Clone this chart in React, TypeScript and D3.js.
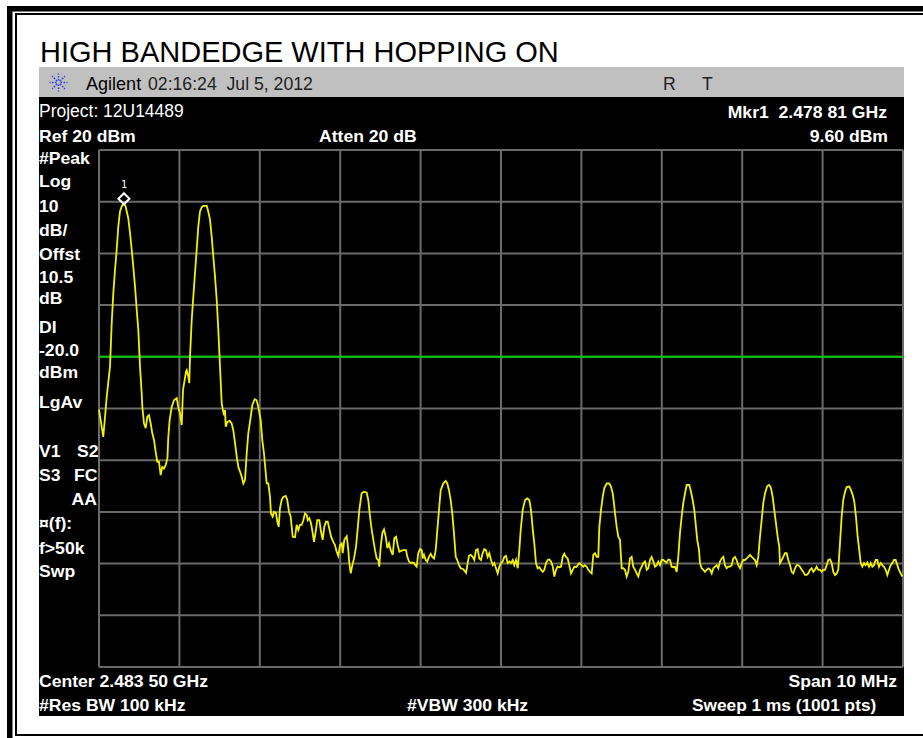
import React from "react";
import * as d3 from "d3";

// Agilent screen capture: high band edge, hopping on
const title = "HIGH BANDEDGE WITH HOPPING ON";
const startMHz = 2478.5; // center 2483.5, span 10 MHz
const spanMHz = 10;
const refLevel = 20; // dBm, top of screen
const dbPerDiv = 10;
const divisions = [0, 1, 2, 3, 4, 5, 6, 7, 8, 9, 10];
const displayLine = -20; // dBm
const markerMHz = 2478.81;
const markerText = "2.478 81";
const markerDbm = 9.6;

const headerTexts = ["Agilent", "02:16:24  Jul 5, 2012", "R", "T"];
const leftLabels = [
  "#Peak", "Log", "10", "dB/", "Offst", "10.5", "dB", "DI", "-20.0", "dBm", "LgAv",
  "V1", "S3", "¤(f):", "f>50k", "Swp",
];
const leftLabelBaselines = [164, 187, 212, 236, 260, 283, 304, 333, 356, 378, 408, 457, 481, 529, 554, 577];

// [offset from start frequency in MHz, level in dBm]
const trace: [number, number][] = [
  [0.000,-30.2],[0.053,-35.5],[0.075,-31.6],[0.096,-27.7],[0.137,-21.9],[0.158,-13.5],[0.178,-7.7],[0.199,-3.2],
  [0.220,0.7],[0.240,5.2],[0.261,8.1],[0.285,9.2],[0.310,9.6],[0.330,9.2],[0.345,8.1],[0.364,6.8],[0.386,3.9],
  [0.407,0.7],[0.427,-2.6],[0.448,-6.4],[0.469,-10.9],[0.489,-14.8],[0.510,-21.9],[0.531,-27.1],[0.539,-29.7],
  [0.560,-32.9],[0.581,-33.8],[0.601,-31.6],[0.622,-31.3],[0.643,-32.9],[0.663,-34.8],[0.684,-36.1],[0.705,-38.4],
  [0.725,-40.3],[0.746,-40.3],[0.767,-42.9],[0.787,-41.3],[0.808,-41.6],[0.830,-40.9],[0.851,-39.6],[0.862,-35.5],
  [0.879,-32.2],[0.904,-29.7],[0.933,-28.4],[0.966,-28.0],[0.986,-29.7],[1.007,-30.9],[1.029,-33.2],[1.045,-26.4],
  [1.082,-22.9],[1.091,-22.6],[1.111,-23.8],[1.123,-25.1],[1.132,-20.0],[1.153,-12.9],[1.173,-8.4],[1.194,-3.8],
  [1.215,0.7],[1.235,5.2],[1.256,8.1],[1.277,8.9],[1.297,9.2],[1.340,9.2],[1.359,8.1],[1.381,6.5],[1.402,3.2],
  [1.422,-0.6],[1.443,-4.5],[1.464,-9.0],[1.484,-14.8],[1.505,-21.9],[1.526,-29.0],[1.542,-30.3],[1.555,-31.3],
  [1.567,-30.3],[1.576,-33.5],[1.596,-32.6],[1.626,-32.4],[1.650,-32.9],[1.670,-34.2],[1.692,-36.7],[1.713,-39.3],
  [1.733,-41.3],[1.754,-42.2],[1.775,-43.2],[1.795,-44.5],[1.816,-43.8],[1.837,-38.7],[1.857,-34.8],[1.887,-31.6],
  [1.907,-29.3],[1.937,-28.2],[1.961,-28.4],[1.981,-29.7],[2.011,-32.2],[2.031,-36.1],[2.052,-38.7],[2.086,-44.5],
  [2.106,-44.5],[2.127,-47.1],[2.139,-50.3],[2.160,-50.9],[2.177,-50.0],[2.201,-50.2],[2.218,-51.9],[2.235,-52.9],
  [2.251,-49.3],[2.272,-47.7],[2.292,-47.1],[2.322,-46.9],[2.342,-47.7],[2.363,-50.0],[2.384,-50.9],[2.397,-52.9],
  [2.409,-54.8],[2.438,-54.9],[2.459,-52.5],[2.479,-53.5],[2.500,-52.5],[2.521,-52.5],[2.541,-51.6],[2.562,-50.3],
  [2.583,-50.6],[2.596,-51.6],[2.616,-51.2],[2.637,-52.2],[2.658,-54.1],[2.674,-55.8],[2.695,-53.8],[2.715,-51.6],
  [2.740,-51.6],[2.761,-53.8],[2.782,-55.4],[2.802,-52.9],[2.823,-51.9],[2.845,-51.9],[2.864,-53.2],[2.886,-54.8],
  [2.914,-55.8],[2.935,-56.4],[2.956,-57.7],[2.976,-58.5],[2.998,-56.4],[3.019,-56.1],[3.031,-58.0],[3.051,-55.4],
  [3.081,-54.7],[3.101,-57.4],[3.113,-59.9],[3.131,-61.9],[3.151,-60.3],[3.172,-59.0],[3.197,-56.7],[3.218,-53.2],
  [3.238,-49.6],[3.267,-46.4],[3.296,-46.1],[3.330,-46.3],[3.349,-47.7],[3.371,-50.9],[3.392,-53.5],[3.412,-55.4],
  [3.433,-57.4],[3.454,-59.0],[3.474,-59.3],[3.486,-60.6],[3.504,-56.7],[3.524,-54.1],[3.545,-53.4],[3.566,-54.8],
  [3.586,-57.0],[3.607,-56.1],[3.628,-57.4],[3.653,-58.3],[3.673,-55.1],[3.694,-54.8],[3.715,-56.4],[3.735,-57.7],
  [3.765,-57.5],[3.785,-57.4],[3.818,-57.4],[3.835,-58.7],[3.856,-59.6],[3.877,-59.9],[3.897,-59.8],[3.918,-59.9],
  [3.934,-60.3],[3.951,-60.6],[3.971,-58.0],[3.993,-57.2],[4.014,-57.4],[4.026,-59.0],[4.042,-58.3],[4.063,-59.3],
  [4.083,-59.6],[4.104,-58.7],[4.126,-58.1],[4.146,-58.7],[4.167,-59.0],[4.188,-57.4],[4.208,-53.5],[4.229,-49.6],
  [4.250,-45.8],[4.282,-44.5],[4.312,-44.0],[4.332,-44.5],[4.353,-45.8],[4.374,-47.7],[4.394,-50.3],[4.415,-54.1],
  [4.437,-58.7],[4.456,-59.3],[4.478,-60.3],[4.499,-60.9],[4.531,-61.1],[4.565,-61.8],[4.581,-60.3],[4.602,-58.5],
  [4.623,-58.3],[4.648,-58.7],[4.668,-59.3],[4.689,-57.4],[4.710,-57.2],[4.730,-59.0],[4.751,-59.3],[4.772,-58.0],
  [4.792,-57.2],[4.813,-57.4],[4.834,-58.7],[4.854,-58.0],[4.876,-59.3],[4.897,-60.3],[4.917,-59.9],[4.938,-60.9],
  [4.959,-61.9],[4.979,-60.6],[5.000,-59.9],[5.021,-59.6],[5.041,-58.7],[5.062,-58.5],[5.083,-59.9],[5.103,-59.6],
  [5.124,-59.9],[5.146,-59.3],[5.165,-60.3],[5.187,-59.3],[5.208,-60.9],[5.228,-57.4],[5.245,-53.5],[5.270,-49.6],
  [5.299,-47.7],[5.327,-47.4],[5.352,-47.7],[5.373,-49.6],[5.394,-53.2],[5.414,-56.1],[5.435,-59.9],[5.456,-60.9],
  [5.476,-60.7],[5.498,-61.2],[5.519,-61.6],[5.539,-61.2],[5.560,-59.9],[5.581,-59.3],[5.601,-59.2],[5.622,-59.6],
  [5.643,-60.5],[5.663,-62.5],[5.684,-61.2],[5.705,-60.6],[5.725,-60.7],[5.746,-60.6],[5.767,-58.7],[5.787,-58.1],
  [5.808,-58.7],[5.829,-59.0],[5.849,-60.3],[5.871,-61.9],[5.892,-61.2],[5.912,-60.6],[5.933,-60.7],[5.954,-60.3],
  [5.974,-59.9],[6.004,-60.3],[6.024,-60.6],[6.045,-60.3],[6.066,-60.6],[6.086,-61.2],[6.107,-61.6],[6.128,-61.9],
  [6.148,-58.3],[6.169,-58.0],[6.190,-58.7],[6.210,-58.7],[6.223,-52.9],[6.244,-49.6],[6.265,-47.1],[6.285,-45.4],
  [6.315,-44.5],[6.347,-44.5],[6.368,-45.1],[6.389,-46.4],[6.405,-48.3],[6.418,-50.3],[6.439,-52.9],[6.459,-54.8],
  [6.480,-55.4],[6.501,-60.9],[6.521,-60.9],[6.542,-61.2],[6.563,-62.5],[6.583,-61.6],[6.604,-59.0],[6.625,-58.7],
  [6.645,-60.6],[6.667,-61.2],[6.688,-61.9],[6.708,-62.5],[6.729,-61.2],[6.750,-60.6],[6.770,-59.9],[6.791,-59.6],
  [6.812,-61.2],[6.832,-60.9],[6.853,-59.3],[6.874,-58.7],[6.894,-59.6],[6.915,-60.6],[6.936,-60.3],[6.956,-59.6],
  [6.978,-60.3],[6.999,-59.3],[7.019,-59.3],[7.040,-59.6],[7.061,-59.8],[7.081,-59.2],[7.102,-59.3],[7.123,-60.6],
  [7.143,-60.7],[7.164,-60.6],[7.185,-61.6],[7.205,-58.7],[7.226,-54.1],[7.247,-50.9],[7.267,-48.3],[7.289,-46.4],
  [7.310,-44.8],[7.342,-44.8],[7.363,-46.1],[7.384,-47.7],[7.404,-49.6],[7.425,-52.9],[7.441,-55.4],[7.463,-57.4],
  [7.475,-59.9],[7.496,-60.9],[7.516,-61.2],[7.537,-61.6],[7.558,-61.2],[7.578,-60.9],[7.600,-61.1],[7.621,-61.9],
  [7.641,-60.9],[7.662,-60.6],[7.683,-60.3],[7.703,-60.9],[7.724,-59.6],[7.745,-59.0],[7.765,-58.7],[7.786,-60.3],
  [7.807,-60.9],[7.827,-60.6],[7.848,-60.6],[7.869,-60.3],[7.889,-59.0],[7.910,-58.7],[7.931,-59.3],[7.951,-60.3],
  [7.973,-60.9],[7.994,-59.9],[8.014,-59.3],[8.035,-59.3],[8.056,-59.0],[8.076,-58.7],[8.097,-58.3],[8.118,-58.7],
  [8.138,-59.0],[8.159,-59.3],[8.180,-60.3],[8.200,-58.7],[8.221,-54.8],[8.242,-51.6],[8.262,-48.3],[8.284,-46.4],
  [8.312,-45.0],[8.337,-44.8],[8.358,-45.4],[8.379,-47.1],[8.399,-49.6],[8.420,-52.2],[8.441,-54.8],[8.461,-56.7],
  [8.470,-59.9],[8.491,-59.3],[8.511,-58.7],[8.532,-58.0],[8.553,-58.0],[8.573,-59.3],[8.595,-60.3],[8.616,-61.6],
  [8.636,-61.9],[8.657,-60.9],[8.678,-60.3],[8.698,-60.3],[8.719,-60.6],[8.740,-61.2],[8.760,-61.6],[8.781,-62.2],
  [8.802,-62.2],[8.822,-61.9],[8.843,-61.2],[8.864,-60.9],[8.884,-61.6],[8.905,-61.2],[8.926,-60.6],[8.946,-61.2],
  [8.968,-61.2],[8.989,-61.6],[9.009,-61.2],[9.030,-61.2],[9.051,-60.3],[9.071,-59.3],[9.092,-59.2],[9.113,-59.9],
  [9.133,-61.6],[9.154,-62.2],[9.175,-61.9],[9.195,-61.2],[9.216,-56.1],[9.237,-50.9],[9.257,-47.7],[9.279,-46.1],
  [9.300,-45.2],[9.332,-45.1],[9.353,-45.8],[9.374,-46.7],[9.394,-48.0],[9.415,-50.9],[9.436,-54.8],[9.456,-57.4],
  [9.474,-59.9],[9.494,-60.6],[9.515,-59.9],[9.536,-60.3],[9.556,-59.8],[9.577,-60.6],[9.598,-59.9],[9.618,-60.6],
  [9.639,-60.3],[9.660,-59.3],[9.680,-59.3],[9.701,-60.6],[9.722,-59.9],[9.742,-60.3],[9.764,-60.6],[9.785,-61.2],
  [9.805,-62.2],[9.826,-61.2],[9.847,-60.3],[9.867,-59.9],[9.888,-59.3],[9.909,-59.3],[9.929,-60.3],[9.950,-61.2],
  [9.971,-61.9],[9.991,-62.5],
];

const FONT = "'Liberation Sans', Arial, sans-serif";

// analyzer font: bold labels are a bit wide, plain ones a bit narrow
const Txt = ({ x, y, children, bold = true, anchor = "start", size = 16, sx = 1.1, fill = "#fff" }: any) => (
  <text
    transform={`translate(${x},${y}) scale(${sx},1)`}
    textAnchor={anchor}
    fontFamily={FONT}
    fontWeight={bold ? "bold" : "normal"}
    fontSize={size}
    fill={fill}
    style={{ whiteSpace: "pre" }}
  >
    {children}
  </text>
);

export default function App() {
  const W = 923, H = 738;
  const plot = { left: 99, right: 903, top: 150, bottom: 667 };

  const x = d3.scaleLinear().domain([0, spanMHz]).range([plot.left, plot.right]);
  const y = d3
    .scaleLinear()
    .domain([refLevel, refLevel - dbPerDiv * 10])
    .range([plot.top, plot.bottom]);

  const line = d3
    .line<[number, number]>()
    .x((d) => x(d[0]))
    .y((d) => y(d[1]));

  const levels = divisions.map((i) => refLevel - i * dbPerDiv);
  const mx = x(markerMHz - startMHz);
  const my = y(markerDbm) - 5;

  // Agilent spark logo
  const spokes = d3.range(8).map((i) => (i * Math.PI) / 4);

  return (
    <svg width={W} height={H} style={{ position: "absolute", left: 0, top: 0 }}>
      <rect x={0} y={0} width={W} height={H} fill="#fff" />
      {/* frame */}
      <rect x={9.75} y={8.75} width={W + 20} height={H + 20} fill="none" stroke="#000" strokeWidth={5.5} />
      <rect x={16} y={14} width={W + 20} height={721} fill="none" stroke="#000" strokeWidth={2} />

      <text x={40} y={62} fontFamily={FONT} fontSize={29} fill="#000">{title}</text>

      {/* header bar */}
      <rect x={39} y={67} width={865} height={30} fill="#c0c0c0" />
      <g stroke="#2a3ee8" strokeWidth={1.6} strokeDasharray="1.6 1.4">
        {spokes.map((a, i) => (
          <line key={i} x1={58.5 + Math.cos(a) * 2} y1={82.5 + Math.sin(a) * 2}
            x2={58.5 + Math.cos(a) * 9} y2={82.5 + Math.sin(a) * 9} />
        ))}
      </g>
      <Txt x={86} y={90} bold={false} size={19} sx={0.95} fill="#000">{headerTexts[0]}</Txt>
      <Txt x={148} y={90} bold={false} size={19} sx={0.93} fill="#222">{headerTexts[1]}</Txt>
      <Txt x={663} y={90} bold={false} size={19} sx={0.93} fill="#222">{headerTexts[2]}</Txt>
      <Txt x={702} y={90} bold={false} size={19} sx={0.93} fill="#222">{headerTexts[3]}</Txt>

      {/* screen */}
      <rect x={39} y={97} width={865} height={619} fill="#000" />
      <Txt x={39} y={117} bold={false} size={19} sx={0.92}>Project: 12U14489</Txt>
      <Txt x={887} y={118} anchor="end">{`Mkr1  ${markerText} GHz`}</Txt>
      <Txt x={39} y={142}>{`Ref ${refLevel} dBm`}</Txt>
      <Txt x={319} y={142}>Atten 20 dB</Txt>
      <Txt x={888} y={142} anchor="end">{`${markerDbm.toFixed(2)} dBm`}</Txt>

      {leftLabels.map((t, i) => (
        <Txt key={t} x={39} y={leftLabelBaselines[i]}>{t}</Txt>
      ))}
      <Txt x={77} y={457}>S2</Txt>
      <Txt x={74} y={481}>FC</Txt>
      <Txt x={97} y={505} anchor="end">AA</Txt>

      {/* graticule */}
      <g stroke="#6a6a6a" strokeWidth={2}>
        {divisions.map((d) => (
          <line key={`v${d}`} x1={x(d)} x2={x(d)} y1={plot.top} y2={plot.bottom} />
        ))}
        {levels.map((l) => (
          <line key={`h${l}`} x1={plot.left} x2={plot.right} y1={y(l)} y2={y(l)} />
        ))}
      </g>

      <line x1={plot.left} x2={plot.right} y1={y(displayLine)} y2={y(displayLine)} stroke="#00c800" strokeWidth={2} />

      <path d={line(trace) || ""} fill="none" stroke="#f2f200" strokeWidth={1.8} strokeLinejoin="miter" />

      {/* marker 1 */}
      <path d={`M${mx},${my - 5.5}L${mx + 5.5},${my}L${mx},${my + 5.5}L${mx - 5.5},${my}Z`} fill="none" stroke="#fff" strokeWidth={2} />
      <text x={mx} y={my - 11} textAnchor="middle" fontFamily="'DejaVu Sans Mono', monospace" fontSize={10} fill="#fff">1</text>

      <Txt x={39} y={687}>Center 2.483 50 GHz</Txt>
      <Txt x={897} y={687} anchor="end">{`Span ${spanMHz} MHz`}</Txt>
      <Txt x={39} y={711}>#Res BW 100 kHz</Txt>
      <Txt x={407} y={711}>#VBW 300 kHz</Txt>
      <Txt x={692} y={711} sx={1.08}>Sweep 1 ms (1001 pts)</Txt>
    </svg>
  );
}
